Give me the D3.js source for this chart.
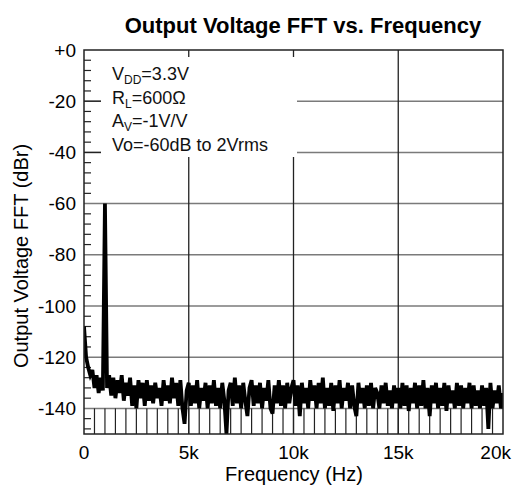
<!DOCTYPE html>
<html>
<head>
<meta charset="utf-8">
<script src="https://cdn.jsdelivr.net/npm/d3@7"></script>
<style>
  body { margin: 0; background: #fff; }
  svg { display: block; font-family: "Liberation Sans", Arial, sans-serif; }
</style>
</head>
<body>
<div id="chart"></div>
<script>
// FFT bin spacing in Hz (bins start at 0 Hz)
var binHz = 100;

// output level in dBr per bin (0 .. 20 kHz)
var fftDb = [
  -108, -120, -124, -127, -125, -132, -127, -134, -128, -133,
  -60,  -132, -127, -135, -128, -136, -129, -134, -127, -137,
  -130, -135, -128, -139, -131, -140, -129, -136, -130, -139,
  -129, -137, -131, -138, -130, -136, -132, -139, -129, -137,
  -131, -138, -128, -136, -130, -139, -129, -140, -146, -133,
  -130, -139, -131, -138, -129, -140, -132, -137, -130, -140,
  -131, -138, -129, -139, -132, -140, -130, -137, -150, -133,
  -130, -139, -128, -138, -131, -140, -130, -137, -143, -132,
  -129, -139, -131, -138, -130, -140, -132, -137, -129, -140,
  -142, -131, -138, -129, -139, -131, -140, -130, -138, -132,
  -129, -139, -131, -143, -130, -138, -132, -140, -129, -137,
  -131, -140, -130, -138, -128, -140, -132, -139, -130, -141,
  -131, -138, -129, -140, -132, -137, -130, -140, -131, -139,
  -143, -130, -138, -132, -140, -131, -139, -130, -140, -132,
  -134, -140, -131, -138, -130, -139, -133, -140, -131, -138,
  -132, -140, -130, -139, -131, -141, -132, -138, -130, -140,
  -131, -139, -129, -140, -132, -143, -131, -138, -130, -140,
  -132, -139, -130, -141, -131, -138, -133, -140, -130, -139,
  -131, -140, -132, -138, -130, -140, -131, -139, -133, -140,
  -131, -139, -132, -148, -130, -140, -133, -138, -131, -140,
  -134
];

var xTicks = [0, 5000, 10000, 15000, 20000];
var xTickLabels = ["0", "5k", "10k", "15k", "20k"];
var yTicks = [0, -20, -40, -60, -80, -100, -120, -140];
var yTickLabels = ["+0", "-20", "-40", "-60", "-80", "-100", "-120", "-140"];
var notes = [
  ["V", "DD", "=3.3V"],
  ["R", "L", "=600\u03A9"],
  ["A", "V", "=-1V/V"],
  ["Vo=-60dB to 2Vrms", "", ""]
];

function init() {
  var W = 513, H = 491;
  var m = { left: 84, top: 50, right: 10, bottom: 57 };
  var width = W - m.left - m.right;
  var height = H - m.top - m.bottom;

  var svg = d3.select("#chart").append("svg")
    .attr("width", W).attr("height", H);

  var xScale = d3.scaleLinear().domain([0, 20000]).range([0, width]);
  var yScale = d3.scaleLinear().domain([-150, 0]).range([height, 0]);

  var chart = svg.append("g")
    .attr("transform", "translate(" + m.left + "," + m.top + ")");

  svg.append("defs").append("clipPath").attr("id", "clip")
    .append("rect").attr("width", width).attr("height", height);

  // horizontal grid
  chart.append("g")
    .selectAll("line")
    .data(yTicks.filter(function(d){ return d < 0; }))
    .enter().append("line")
    .attr("x1", 0).attr("x2", width)
    .attr("y1", function(d){ return yScale(d); })
    .attr("y2", function(d){ return yScale(d); })
    .attr("stroke", "#7a7a7a").attr("stroke-width", 1.5);

  // vertical grid
  chart.append("g")
    .selectAll("line")
    .data([5000, 10000, 15000])
    .enter().append("line")
    .attr("x1", function(d){ return xScale(d); })
    .attr("x2", function(d){ return xScale(d); })
    .attr("y1", 0).attr("y2", height)
    .attr("stroke", "#222").attr("stroke-width", 1.3);

  // short vertical lines every 500 Hz in the bottom band
  chart.append("g")
    .selectAll("line")
    .data(d3.range(500, 20000, 500))
    .enter().append("line")
    .attr("x1", function(d){ return xScale(d); })
    .attr("x2", function(d){ return xScale(d); })
    .attr("y1", yScale(-140)).attr("y2", height)
    .attr("stroke", "#222").attr("stroke-width", 1.2);

  // minor ticks on left axis every 4 dB
  chart.append("g")
    .selectAll("line")
    .data(d3.range(-148, 0, 4).filter(function(d){ return d % 20 !== 0; }))
    .enter().append("line")
    .attr("x1", 0).attr("x2", 7)
    .attr("y1", function(d){ return yScale(d); })
    .attr("y2", function(d){ return yScale(d); })
    .attr("stroke", "#222").attr("stroke-width", 1.2);

  // annotation box (covers grid)
  var bx = 17, by = 7, bw = 196, bh = 100;
  chart.append("rect")
    .attr("x", bx).attr("y", by).attr("width", bw).attr("height", bh)
    .attr("fill", "#fff");

  // major ticks visible inside the box area
  chart.append("g")
    .selectAll("line")
    .data([-20, -40])
    .enter().append("line")
    .attr("x1", 0).attr("x2", bx)
    .attr("y1", function(d){ return yScale(d); })
    .attr("y2", function(d){ return yScale(d); })
    .attr("stroke", "#222").attr("stroke-width", 1.3);

  var noteText = chart.append("g").attr("font-size", "18px").attr("fill", "#111");
  notes.forEach(function(n, i) {
    var t = noteText.append("text")
      .attr("x", 28).attr("y", 30 + i * 23.5);
    t.append("tspan").text(n[0]);
    if (n[1]) {
      t.append("tspan").attr("font-size", "12px").attr("dy", 4).text(n[1]);
      t.append("tspan").attr("dy", -4).text(n[2]);
    }
  });

  // data trace
  var line = d3.line()
    .x(function(d, i){ return xScale(i * binHz); })
    .y(function(d){ return yScale(d); });

  chart.append("path")
    .datum(fftDb)
    .attr("clip-path", "url(#clip)")
    .attr("d", line)
    .attr("fill", "none")
    .attr("stroke", "#000")
    .attr("stroke-width", 3.8)
    .attr("stroke-linejoin", "miter");

  // frame
  chart.append("rect")
    .attr("width", width).attr("height", height)
    .attr("fill", "none").attr("stroke", "#222").attr("stroke-width", 1.5);

  // tick labels
  chart.append("g").selectAll("text")
    .data(yTicks)
    .enter().append("text")
    .attr("x", -8)
    .attr("y", function(d){ return yScale(d); })
    .attr("dy", "0.35em")
    .attr("text-anchor", "end")
    .attr("font-size", "19px")
    .text(function(d, i){ return yTickLabels[i]; });

  chart.append("g").selectAll("text")
    .data(xTicks)
    .enter().append("text")
    .attr("x", function(d){ return xScale(d); })
    .attr("y", height + 25)
    .attr("text-anchor", function(d, i){ return i === xTicks.length - 1 ? "end" : "middle"; })
    .attr("dx", function(d, i){ return i === xTicks.length - 1 ? 8 : 0; })
    .attr("font-size", "19px")
    .text(function(d, i){ return xTickLabels[i]; });

  svg.append("text")
    .attr("x", 294)
    .attr("y", H - 10)
    .attr("text-anchor", "middle")
    .attr("font-size", "20px")
    .text("Frequency (Hz)");

  svg.append("text")
    .attr("transform", "translate(28,256) rotate(-90)")
    .attr("text-anchor", "middle")
    .attr("font-size", "20px")
    .text("Output Voltage FFT (dBr)");

  svg.append("text")
    .attr("x", 303)
    .attr("y", 33)
    .attr("text-anchor", "middle")
    .attr("font-size", "22px")
    .attr("font-weight", "bold")
    .text("Output Voltage FFT vs. Frequency");
}

window.onload = init;
</script>
</body>
</html>
